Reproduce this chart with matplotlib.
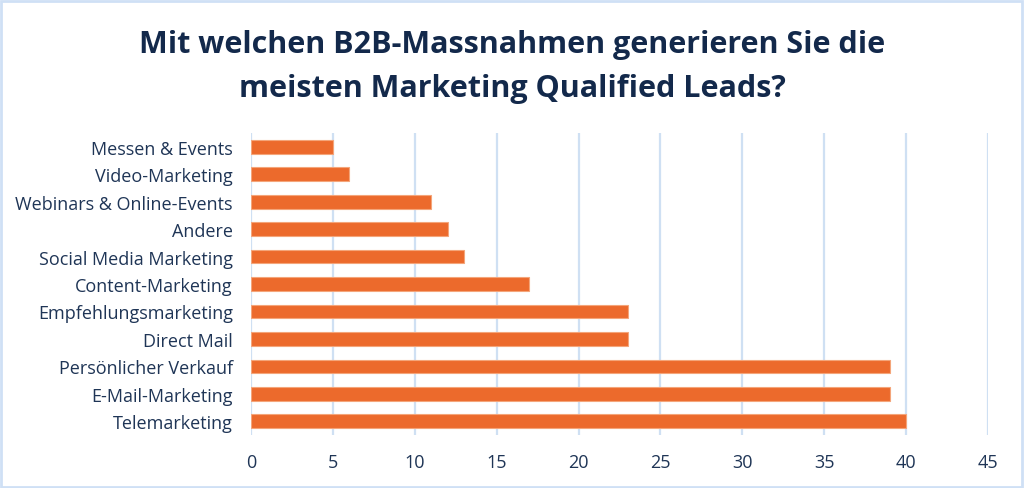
import matplotlib
matplotlib.use("Agg")
import matplotlib.pyplot as plt
from matplotlib.patches import Rectangle

categories = ["Messen & Events", "Video-Marketing", "Webinars & Online-Events", "Andere",
              "Social Media Marketing", "Content-Marketing", "Empfehlungsmarketing",
              "Direct Mail", "Persönlicher Verkauf", "E-Mail-Marketing", "Telemarketing"]
values = [5, 6, 11, 12, 13, 17, 23, 23, 39, 39, 40]
xticks = [0, 5, 10, 15, 20, 25, 30, 35, 40, 45]
title = "Mit welchen B2B-Massnahmen generieren Sie die\nmeisten Marketing Qualified Leads?"

W, H = 1024, 489
fig = plt.figure(figsize=(W/100, H/100), dpi=100)
ax = fig.add_axes([251/W, 1-436/H, (988-251)/W, (436-134)/H])

y = list(range(len(categories)))
ax.barh(y, values, height=0.5, color="#ec6a2c", edgecolor="#f4a57a", linewidth=0.8, zorder=3)
ax.set_ylim(len(categories)-0.5, -0.5)
ax.set_xlim(0, 45)
ax.set_xticks(xticks)
ax.set_yticks(y)
ax.set_yticklabels(categories)
ax.xaxis.grid(True, color="#cfe0f3", linewidth=1.6, zorder=0)
ax.set_axisbelow(True)
for s in ax.spines.values():
    s.set_visible(False)
ax.tick_params(axis="both", length=0, labelsize=13, labelcolor="#1f3556")
ax.tick_params(axis="x", pad=13)
ax.tick_params(axis="y", pad=13)
for lab in ax.get_xticklabels() + ax.get_yticklabels():
    lab.set_family("Open Sans")

fig.text(0.5, 1-67/H, title, ha="center", va="center", fontsize=22, fontweight="bold",
         color="#13294b", family="Open Sans", linespacing=1.6)

fig.patches.append(Rectangle((1/W, 1/H), 1-3/W, 1-3/H, transform=fig.transFigure,
                             fill=False, edgecolor="#cfe0f5", linewidth=2))
fig.savefig("out.png", dpi=100)
